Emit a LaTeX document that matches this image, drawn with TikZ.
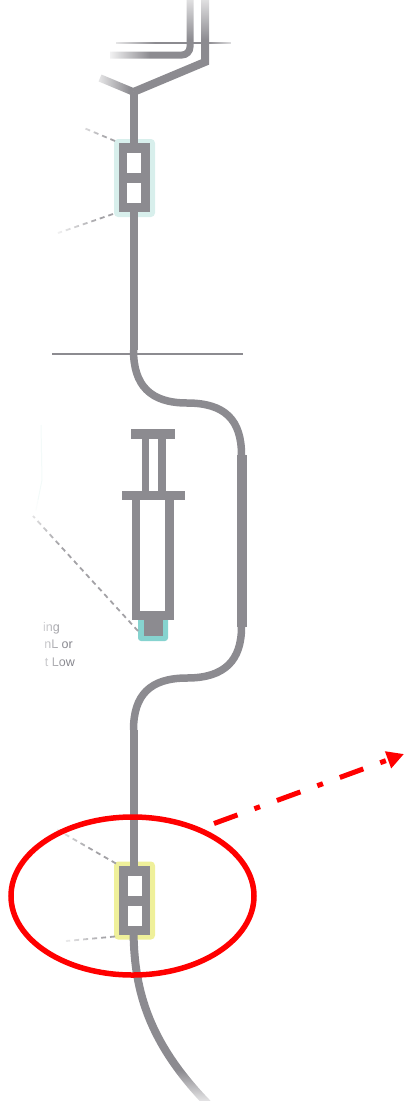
\documentclass[tikz,border=0pt]{standalone}
\usepackage{fontspec}
\setmainfont{Liberation Sans}
\usetikzlibrary{shapes.geometric,arrows.meta,fadings}
\definecolor{tubegray}{HTML}{8C8B90}
\definecolor{halot}{HTML}{D8EFEC}
\definecolor{tealtip}{HTML}{86D3CF}
\definecolor{haloy}{HTML}{EFF09A}
\definecolor{labelgray}{HTML}{85858C}
\tikzset{
  tube/.style={draw=tubegray,line width=8pt},
  thintube/.style={draw=tubegray,line width=7.5pt},
  wide/.style={draw=tubegray,line width=10pt},
  clampbody/.style={rectangle,fill=tubegray,inner sep=0,outer sep=0,minimum width=31pt,minimum height=69pt},
  clampwin/.style={rectangle,fill=white,inner sep=0,outer sep=0,minimum width=14pt,minimum height=20pt},
  halo/.style={rectangle,rounded corners=4pt,fill=#1,inner sep=0,outer sep=0,minimum width=41pt,minimum height=78pt},
  leader/.style={draw=tubegray!80,line width=1.8pt,dash pattern=on 5pt off 4pt},
  part/.style={rectangle,fill=tubegray,inner sep=0,outer sep=0},
  hole/.style={rectangle,fill=white,inner sep=0,outer sep=0},
  whitefade/.style={fill=white,draw=none,path fading=#1},
  lab/.style={font=\fontsize{12.5}{14}\selectfont,text=labelgray,anchor=base east,inner sep=0},
  redring/.style={ellipse,draw=red,line width=5.5pt,inner sep=0,outer sep=0,minimum width=243pt,minimum height=158pt},
  redarrow/.style={draw=red,line width=5pt,dash pattern=on 25pt off 18pt on 6pt off 18pt,-{Triangle[length=17pt,width=17pt]}},
}
\begin{document}
\begin{tikzpicture}[x=1pt,y=-1pt]
\useasboundingbox (0,0) rectangle (408,1101);
% way points
\coordinate (topR) at (205,-5);
\coordinate (kneeR) at (205,62);
\coordinate (join) at (133.5,92);
\coordinate (topI) at (190,-5);
\coordinate (kneeI) at (190,55);
\coordinate (leftI) at (110,55);
\coordinate (leftD) at (100,78);
\coordinate (bend1) at (133.5,350);
\coordinate (mid1) at (187,403);
\coordinate (side1) at (241.5,455);
\coordinate (side2) at (241.5,627);
\coordinate (mid2) at (187,678);
\coordinate (bend2) at (133.5,730);
\coordinate (tailEnd) at (210,1106);
% faint left curve
\draw[draw=halot!30,line width=1pt] (41,425) -- (42,480) -- (36,510);
% top lines
\draw[thintube,line width=7pt,rounded corners=8pt] (topI) -- (kneeI) -- (leftI);
\draw[tube,line join=miter] (topR) -- (kneeR) -- (join);
\draw[thintube] (leftD) -- (join);
\fill[whitefade=south] (178,-15) rectangle (222,40);
\fill[whitefade=east] (105,48) rectangle (150,62);
\fill[whitefade=east] (90,70) rectangle (130,100);
% clamp A
\node[halo=halot] (haloA) at (134.5,178) {};
\draw[tube] (join) -- (bend1);
\node[clampbody] (clampA) at (134.5,177.5) {};
\node[clampwin] (winA1) at (134,163) {};
\node[clampwin] (winA2) at (134,193) {};
% thin line at top
\node[rectangle,inner sep=0,outer sep=0,minimum width=115pt,minimum height=1.8pt,fill=tubegray] (rule1) at (173,43) {};
\fill[whitefade=east] (105,41) rectangle (155,45);
\fill[whitefade=west] (208,41) rectangle (240,45);
% leaders of clamp A
\coordinate (lA1) at (84,128);
\coordinate (lA2) at (58,233);
\draw[leader] (haloA.north west) ++(1,2) -- (lA1);
\draw[leader] (haloA.south west) ++(-1,-3) -- (lA2);
\fill[whitefade=east] (70,122) rectangle (108,148);
\fill[whitefade=east] (50,210) rectangle (100,240);
% horizontal rule
\node[rectangle,inner sep=0,outer sep=0,minimum width=191pt,minimum height=1.3pt,fill=tubegray] (rule2) at (147.5,354) {};
% tube loop
\draw[thintube] (bend1) .. controls (133.5,385) and (150,403) .. (mid1) .. controls (225,403) and (241.5,420) .. (side1);
\draw[wide] (side1) -- (side2);
\draw[thintube] (side2) .. controls (241.5,660) and (225,678) .. (mid2) .. controls (150,678) and (133.5,695) .. (bend2);
% syringe
\node[rectangle,rounded corners=3pt,fill=tealtip,inner sep=0,outer sep=0,minimum width=30pt,minimum height=26pt] (tipHalo) at (153,628) {};
\node[part,minimum width=44pt,minimum height=10pt] (plate) at (153,434) {};
\node[part,minimum width=24pt,minimum height=54pt] (rod) at (154,465) {};
\node[hole,minimum width=9pt,minimum height=52pt] (rodHole) at (153.5,465) {};
\node[part,minimum width=63pt,minimum height=9pt] (flange) at (153.5,495.5) {};
\node[part,minimum width=42pt,minimum height=120pt] (barrel) at (153,560) {};
\node[hole,minimum width=25pt,minimum height=111pt] (barrelHole) at (152.5,555.5) {};
\node[part,minimum width=19pt,minimum height=16pt] (tip) at (153.5,627.5) {};
% syringe leader
\coordinate (lS) at (33,516);
\draw[leader] (tipHalo.west) ++(0,3) -- (lS);
\fill[whitefade=east] (20,500) rectangle (60,545);
% cut-off labels
\node[lab] (t1) at (60,631) {ing};
\node[lab] (t2) at (73,648) {nL or};
\node[lab] (t3) at (75,666) {t Low};
\fill[whitefade=east] (30,618) rectangle (66,670);
% clamp B
\node[halo=haloy] (haloB) at (134.5,900.5) {};
\draw[tube] (bend2) -- (133.5,870);
\draw[line width=8pt,draw=tubegray] (133.5,930) .. controls (134,985) and (145,1040) .. (tailEnd);
\fill[whitefade=north] (170,1070) rectangle (225,1110);
\node[clampbody] (clampB) at (134.5,900.5) {};
\node[clampwin] (winB1) at (134.5,886) {};
\node[clampwin] (winB2) at (134.5,915.5) {};
% leaders of clamp B
\coordinate (lB1) at (56,829);
\coordinate (lB2) at (66,941);
\draw[leader] (haloB.north west) ++(2,2) -- (lB1);
\draw[leader] (haloB.south west) ++(1,-3) -- (lB2);
\fill[whitefade=east] (50,820) rectangle (90,852);
\fill[whitefade=east] (55,930) rectangle (105,946);
% red annotation
\node[redring] (ring) at (132.5,896) {};
\coordinate (arrowStart) at (214,823.5);
\coordinate (arrowEnd) at (404,754);
\draw[redarrow] (arrowStart) -- (arrowEnd);
\end{tikzpicture}
\end{document}
